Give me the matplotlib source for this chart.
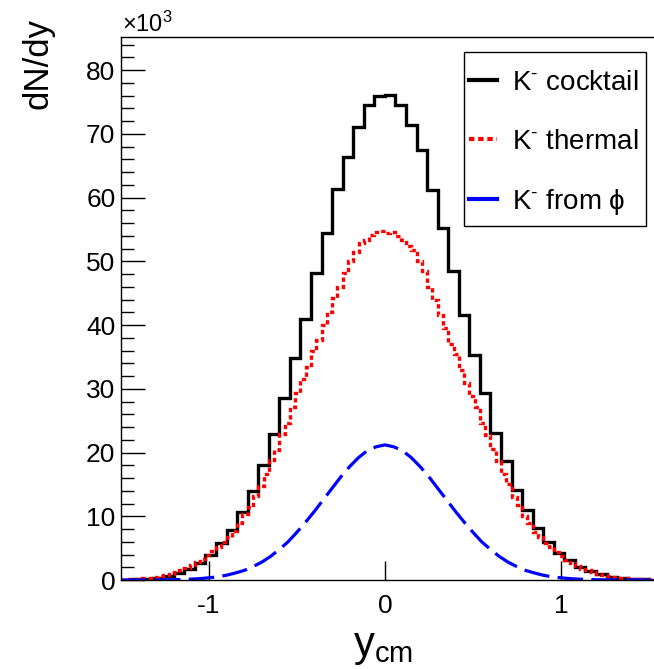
import numpy as np
import matplotlib
matplotlib.use("Agg")
import matplotlib.pyplot as plt
from matplotlib.ticker import MultipleLocator
from matplotlib.patches import Rectangle

plt.rcParams['font.family'] = ['Liberation Sans', 'DejaVu Sans']
plt.rcParams['mathtext.fontset'] = 'custom'
plt.rcParams['mathtext.rm'] = 'Liberation Sans'
plt.rcParams['mathtext.it'] = 'Liberation Sans:italic'
plt.rcParams['mathtext.bf'] = 'Liberation Sans:bold'

# K- cocktail: bins of 0.06 in rapidity, yields in units of 10^3
cocktail_edges = np.round(np.arange(-1.5, 1.5601, 0.06), 4)
cocktail = [0.05, 0.1, 0.2, 0.35, 0.6, 1.05, 1.7, 2.6, 3.9, 5.75,
            7.8, 10.6, 14.0, 18.1, 22.9, 28.6, 34.8, 41.0, 48.1, 54.4,
            61.3, 66.4, 71.1, 74.5, 75.9, 76.1, 74.5, 71.4, 67.5, 61.2,
            55.3, 48.5, 41.6, 35.3, 29.3, 23.1, 18.7, 14.1, 11.0, 8.1,
            5.9, 4.2, 3.1, 2.1, 1.4, 0.9, 0.5, 0.3, 0.2, 0.1, 0.05]

# K- thermal: bins of 0.03 in rapidity
thermal_edges = np.round(np.arange(-1.5, 1.5301, 0.03), 4)
thermal = [0.07, 0.1, 0.14, 0.19, 0.26, 0.36, 0.46, 0.62, 0.78, 0.98,
           1.25, 1.55, 1.9, 2.3, 2.75, 3.3, 3.9, 4.5, 5.2, 5.9,
           6.8, 7.7, 8.9, 10.3, 11.5, 13.2, 14.8, 16.6, 18.8, 20.4,
           22.9, 24.6, 27.2, 29.3, 31.6, 33.4, 35.9, 37.6, 40.0, 42.1,
           44.3, 46.0, 48.2, 50.1, 51.5, 52.8, 53.4, 54.1, 54.6, 54.7,
           54.5, 54.6, 53.9, 53.3, 52.4, 51.8, 50.0, 48.5, 45.9, 44.0,
           41.6, 39.6, 37.1, 35.4, 32.9, 30.9, 28.8, 27.1, 24.7, 22.8,
           20.5, 18.7, 16.6, 15.0, 13.0, 11.7, 10.0, 8.9, 7.6, 6.8,
           5.8, 5.1, 4.4, 3.7, 3.2, 2.7, 2.2, 1.8, 1.5, 1.2,
           0.95, 0.76, 0.6, 0.46, 0.35, 0.27, 0.2, 0.15, 0.11, 0.08, 0.06]

# K- from phi decays: smooth curve sampled every 0.05
phi_y = np.round(np.arange(-1.5, 1.5501, 0.05), 4)
phi_half = [21.2, 20.9, 20.3, 19.2, 17.8, 16.2, 14.4, 12.6, 10.8, 9.1,
            7.5, 6.0, 4.8, 3.7, 2.8, 2.1, 1.5, 1.1, 0.75, 0.5,
            0.35, 0.22, 0.14, 0.09, 0.05, 0.03, 0.02, 0.01, 0.01, 0.0, 0.0, 0.0]
phi_vals = phi_half[30:0:-1] + phi_half[:32]
phi_vals = phi_vals[:len(phi_y)]

labels = ['K$^{\u2010}$ cocktail', 'K$^{\u2010}$ thermal', 'K$^{\u2010}$ from \u03d5']

fig = plt.figure(figsize=(6.54, 6.69), dpi=100)
ax = fig.add_axes([121/654, 1 - 580/669, 1 - 121/654 + 0.002, (580 - 37)/669])

h1 = ax.stairs(cocktail, cocktail_edges, color='black', lw=2.4)
h2 = ax.stairs(thermal, thermal_edges, color='#ff0000', lw=2.4,
               linestyle=(0, (1.3, 0.9)))
h3, = ax.plot(phi_y, phi_vals, color='#0000ff', lw=2.3,
              linestyle=(0, (8, 2.6)))

ax.set_xlim(-1.5, 1.537)
ax.set_ylim(0, 85.2)
ax.spines['right'].set_visible(False)
for s in ax.spines.values():
    s.set_linewidth(1.0)

ax.yaxis.set_major_locator(MultipleLocator(10))
ax.yaxis.set_minor_locator(MultipleLocator(2))
ax.tick_params(axis='y', which='major', direction='in', length=17, width=1.0,
               labelsize=19, pad=4, right=False)
ax.tick_params(axis='y', which='minor', direction='in', length=9, width=1.0)
ax.tick_params(axis='x', which='major', direction='in', length=14, width=1.0,
               labelsize=19, pad=10, top=False)
ax.set_xticks([-1, 0, 1])
ax.set_xticklabels(['-1', '0', '1'])

fig.text(38/654, 1 - 18/669, 'dN/dy', rotation=90, ha='center', va='top', fontsize=25)
fig.text(383/654, 1 - 667/669, r'y$_{\mathregular{cm}}$', ha='center', va='bottom', fontsize=30)
fig.text(122/654, 1 - 32/669, r'$\mathregular{\times 10^{3}}$', ha='left', va='baseline', fontsize=17)

# legend box
ax.add_patch(Rectangle((0.6417, 0.652), 0.9831 - 0.6417, 0.9724 - 0.652,
                       transform=ax.transAxes, facecolor='white',
                       edgecolor='black', lw=1.0, zorder=4))
handles = [plt.Line2D([], [], color='black', lw=3.0),
           plt.Line2D([], [], color='#ff0000', lw=3.0, linestyle=(0, (1.3, 0.9))),
           plt.Line2D([], [], color='#0000ff', lw=3.0)]
leg = ax.legend(handles, labels, loc='upper left', bbox_to_anchor=(0.651, 0.9392),
                fontsize=20, frameon=False, borderpad=0,
                labelspacing=1.17, handlelength=1.0, handletextpad=0.55,
                borderaxespad=0)
leg.set_zorder(5)

fig.savefig('out.png', dpi=100)
